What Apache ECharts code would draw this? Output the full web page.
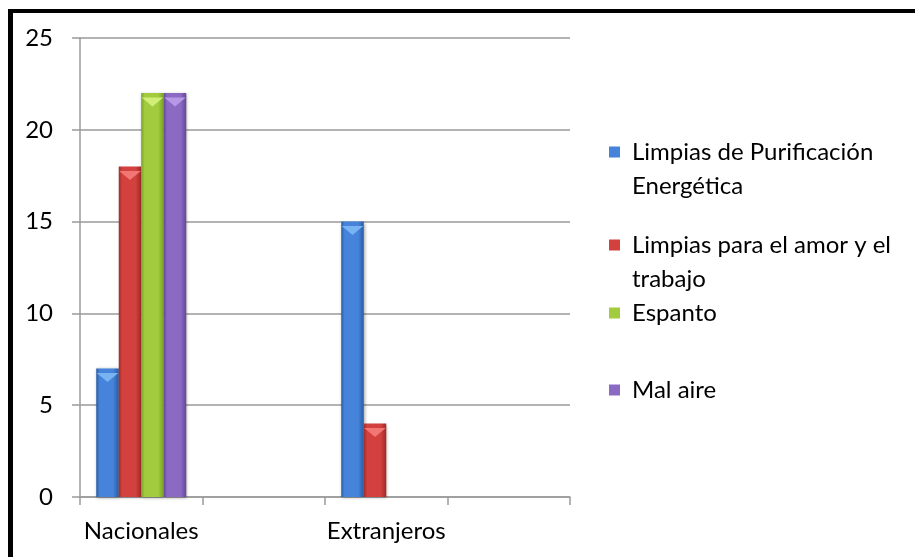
<!DOCTYPE html>
<html>
<head>
<meta charset="utf-8">
<script src="https://cdn.jsdelivr.net/npm/echarts@6/dist/echarts.min.js"></script>
<style>
  html, body { margin: 0; padding: 0; background: #fff; }
  #chart { width: 915px; height: 557px; }
</style>
</head>
<body>
<div id="chart"></div>
<script>
// Categories (two empty slots keep the original spacing of the axis)
const categories = ['Nacionales', '', 'Extranjeros', ''];

// Series names and values per category
const seriesNames = [
  'Limpias de Purificación\nEnergética',
  'Limpias para el amor y el\ntrabajo',
  'Espanto',
  'Mal aire'
];
const purificacion = [7, null, 15, null];
const amorTrabajo  = [18, null, 4, null];
const espanto      = [22, null, null, null];
const malAire      = [22, null, null, null];

const yTicks = [0, 5, 10, 15, 20, 25];

const values = [purificacion, amorTrabajo, espanto, malAire];

// Colour sets: [edge, centre, bevel highlight]
const palette = [
  ['#2a5ca3', '#4584da', '#78b4f2'],
  ['#a02a29', '#d2413d', '#f27774'],
  ['#78a029', '#a2cc3d', '#d0ee78'],
  ['#654795', '#8b6ac4', '#b798e6']
];

function bodyGradient(c) {
  return new echarts.graphic.LinearGradient(0, 0, 1, 0, [
    { offset: 0, color: c[0] },
    { offset: 0.15, color: c[1] },
    { offset: 0.75, color: c[1] },
    { offset: 1, color: c[0] }
  ]);
}

const barW = 22.5;
const series = [];
values.forEach((vals, i) => {
  series.push({
    name: seriesNames[i],
    type: 'bar',
    data: vals,
    barWidth: barW,
    barGap: '0%',
    itemStyle: {
      color: bodyGradient(palette[i]),
      shadowColor: 'rgba(0,0,0,0.35)',
      shadowBlur: 3,
      shadowOffsetX: 1,
      shadowOffsetY: 1
    },
    emphasis: { disabled: true },
    z: 2
  });
});
// Bevel highlight at the top of each bar
values.forEach((vals, i) => {
  series.push({
    name: 'bevel' + i,
    type: 'pictorialBar',
    data: vals,
    barWidth: barW,
    barGap: '0%',
    symbol: 'path://M0,0 L20,0 L10,8 Z',
    symbolSize: [barW - 1, 9],
    symbolPosition: 'end',
    symbolOffset: [0, '50%'],
    itemStyle: { color: palette[i][2] },
    silent: true,
    z: 3
  });
});

// Legend marker: a square at the top of a taller icon box, so that the
// square lines up with the first line of a two-line entry.
const tallIcon = 'path://M0,0 L11,0 L11,11 L0,11 Z M0,44.98 L0.02,45 L0,45 Z';
const lineH = 34;
const legendTops = [135, 228, 296, 373];
const legends = seriesNames.map((n, i) => {
  const twoLines = n.indexOf('\n') >= 0;
  return {
    data: [{ name: n, itemStyle: { color: palette[i][1] } }],
    left: 609,
    top: legendTops[i],
    padding: 0,
    orient: 'vertical',
    icon: twoLines ? tallIcon : 'rect',
    itemWidth: 11,
    itemHeight: twoLines ? 45 : 11,
    selectedMode: false,
    textStyle: {
      fontFamily: 'Lato',
      fontSize: 24,
      color: '#000',
      lineHeight: lineH,
      padding: [0, 0, 0, 7]
    }
  };
});

const chart = echarts.init(document.getElementById('chart'), null, { renderer: 'canvas' });
chart.setOption({
  animation: false,
  backgroundColor: '#fff',
  textStyle: { fontFamily: 'Lato' },
  grid: { left: 80, right: 345, top: 38, bottom: 60, containLabel: false },
  legend: legends,
  xAxis: {
    type: 'category',
    data: categories,
    boundaryGap: true,
    axisLine: { lineStyle: { color: '#9a9a9a', width: 1.5 } },
    axisTick: { show: true, length: 8, alignWithLabel: false, lineStyle: { color: '#9a9a9a', width: 1.5 } },
    axisLabel: { color: '#000', fontSize: 24, fontFamily: 'Lato', margin: 22, interval: 0 }
  },
  yAxis: {
    type: 'value',
    min: yTicks[0],
    max: yTicks[yTicks.length - 1],
    interval: 5,
    axisLine: { show: true, lineStyle: { color: '#9a9a9a', width: 1.5 } },
    axisTick: { show: true, length: 8, lineStyle: { color: '#9a9a9a', width: 1.5 } },
    splitLine: { lineStyle: { color: '#9a9a9a', width: 1.5 } },
    axisLabel: { color: '#000', fontSize: 24, fontFamily: 'Lato', margin: 27 }
  },
  graphic: [
    { type: 'rect', shape: { x: 8, y: 9, width: 907, height: 4 }, style: { fill: '#000' }, z: 100 },
    { type: 'rect', shape: { x: 8, y: 9, width: 5, height: 548 }, style: { fill: '#000' }, z: 100 }
  ],
  series: series
});
</script>
</body>
</html>
